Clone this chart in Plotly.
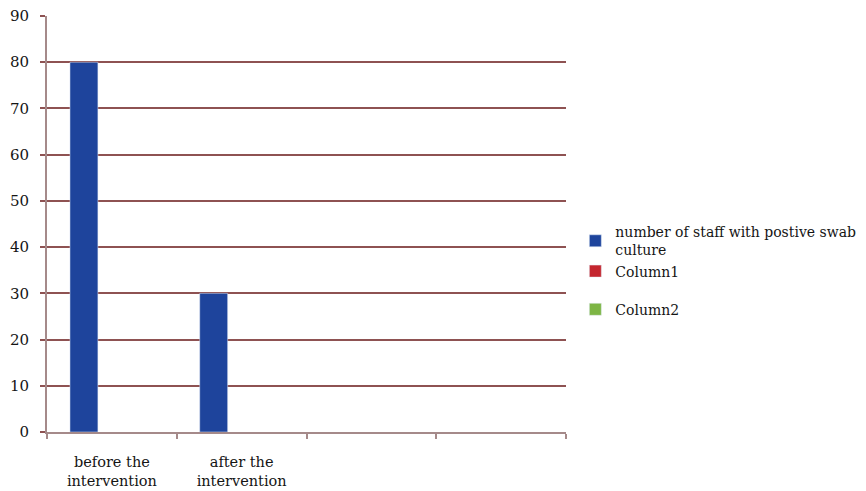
import plotly.graph_objects as go

# Chart data
categories = ["before the<br>intervention", "after the<br>intervention", "", ""]
staff_positive = [80, 30, None, None]
column1 = [None, None, None, None]
column2 = [None, None, None, None]
y_ticks = [0, 10, 20, 30, 40, 50, 60, 70, 80, 90]

positions = [i + 0.5 for i in range(len(categories))]
font_family = "DejaVu Serif"
text_color = "#151515"
grid_color = "#8E5252"
axis_color = "#A58A8A"

fig = go.Figure()
fig.add_trace(go.Bar(x=positions, y=staff_positive, name="number of staff with postive swab<br>culture",
                     marker_color="#1E449C", legendgroup="a"))
fig.add_trace(go.Bar(x=positions, y=column1, name="Column1", marker_color="#C4262E", legendgroup="a"))
fig.add_trace(go.Bar(x=positions, y=column2, name="Column2", marker_color="#7DB544", legendgroup="b"))

fig.update_layout(
    width=866, height=491,
    margin=dict(l=47, r=300, t=16, b=59, autoexpand=False),
    paper_bgcolor="white", plot_bgcolor="white",
    barmode="group", bargap=0.354, bargroupgap=0,
    font=dict(family=font_family, size=14, color=text_color),
    legend=dict(x=1.018, y=0.519, xanchor="left", yanchor="top",
                traceorder="grouped", tracegroupgap=17,
                font=dict(family=font_family, size=14, color=text_color),
                itemwidth=30, bgcolor="rgba(0,0,0,0)"),
    showlegend=True,
)

fig.update_xaxes(
    range=[0, len(categories)],
    tickmode="array", tickvals=positions, ticktext=categories,
    ticks="", showgrid=False, zeroline=False, automargin=False,
    showline=True, linecolor=axis_color, linewidth=2,
    ticklabelstandoff=16,
    tickfont=dict(family=font_family, size=14.5, color=text_color),
    minor=dict(tickmode="array", tickvals=list(range(len(categories) + 1)),
               ticks="outside", ticklen=5, tickcolor=axis_color, tickwidth=2, showgrid=False),
)
fig.update_yaxes(
    range=[0, 90], tickmode="array", tickvals=y_ticks,
    showgrid=True, gridcolor=grid_color, gridwidth=1.5,
    ticks="outside", ticklen=5, tickcolor=grid_color, tickwidth=1.5,
    ticklabelstandoff=8, automargin=False,
    zeroline=False, showline=True, linecolor=axis_color, linewidth=2,
    tickfont=dict(family=font_family, size=15, color=text_color),
)

fig.write_html("out.html")
